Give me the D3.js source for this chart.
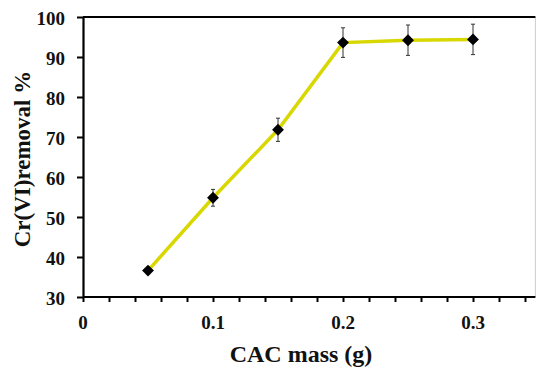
<!DOCTYPE html>
<html>
<head>
<meta charset="utf-8">
<script src="https://cdn.jsdelivr.net/npm/d3@7"></script>
<style>
  html, body { margin: 0; padding: 0; background: #fff; }
  svg { display: block; }
  text { font-family: "Liberation Serif", "Times New Roman", serif; font-weight: bold; fill: #111; }
</style>
</head>
<body>
<svg id="chart" width="536" height="369"></svg>
<script>
// CAC dose (g) and Cr(VI) removal (%) with standard deviations
const mass = [0.05, 0.10, 0.15, 0.20, 0.25, 0.30];
const removal = [36.6, 54.8, 71.8, 93.6, 94.2, 94.4];
const errors = [0.8, 2.1, 2.9, 3.7, 3.8, 3.8];
const xTickLabels = [0, 0.1, 0.2, 0.3];
const yTickLabels = [30, 40, 50, 60, 70, 80, 90, 100];

const svg = d3.select("#chart");
const x = d3.scaleLinear().domain([0, 0.35]).range([83, 538]);
const y = d3.scaleLinear().domain([30, 100]).range([297, 17]);
const xMax = 0.348;

// frame: thin grey right edge, black top edge
svg.append("line")
  .attr("x1", x(xMax)).attr("x2", x(xMax)).attr("y1", y(100)).attr("y2", y(30))
  .attr("stroke", "#ccc").attr("stroke-width", 1);
svg.append("line")
  .attr("x1", x(0)).attr("x2", x(xMax)).attr("y1", y(100)).attr("y2", y(100))
  .attr("stroke", "#000").attr("stroke-width", 2.2);

// bottom axis with minor ticks every 0.02
const minorTicks = d3.range(0, 0.341, 0.02);
const xAxis = d3.axisBottom(x).tickValues(minorTicks).tickSize(5).tickSizeOuter(0)
  .tickFormat(() => "");
const gx = svg.append("g").attr("transform", `translate(0,${y(30)})`).call(xAxis);
gx.select(".domain").attr("d", `M${x(0)},0H${x(xMax)}`).attr("stroke-width", 2.2);
gx.selectAll(".tick line").attr("stroke-width", 2);
svg.append("g").selectAll("text").data(xTickLabels).join("text")
  .attr("x", d => x(d)).attr("y", 329)
  .attr("text-anchor", "middle").attr("font-size", 19)
  .text(d => d === 0 ? "0" : d3.format(".1f")(d));

// left axis
const yAxis = d3.axisLeft(y).tickValues(yTickLabels).tickSize(6).tickSizeOuter(0)
  .tickPadding(12);
const gy = svg.append("g").attr("transform", `translate(${x(0)},0)`).call(yAxis);
gy.select(".domain").attr("stroke-width", 2.2);
gy.selectAll(".tick line").attr("stroke-width", 2);
gy.selectAll(".tick text").attr("font-size", 19).attr("dy", "0.4em")
  .style("font-family", "'Liberation Serif', serif").style("font-weight", "bold").attr("fill", "#111");

// axis titles
svg.append("text").attr("x", 301).attr("y", 362)
  .attr("text-anchor", "middle").attr("font-size", 24).text("CAC mass (g)");
svg.append("text").attr("transform", `translate(30,${y(64.5)}) rotate(-90)`)
  .attr("text-anchor", "middle").attr("font-size", 23).text("Cr(VI)removal %");

// connecting line
const pts = mass.map((m, i) => ({ m, r: removal[i], e: errors[i] }));
svg.append("path").datum(pts)
  .attr("d", d3.line().x(d => x(d.m)).y(d => y(d.r)))
  .attr("fill", "none").attr("stroke", "#d8d800").attr("stroke-width", 3.5);

// error bars
const eb = svg.append("g").attr("stroke", "#333").attr("stroke-width", 1);
eb.selectAll("line.v").data(pts).join("line").attr("class", "v")
  .attr("x1", d => x(d.m)).attr("x2", d => x(d.m))
  .attr("y1", d => y(d.r - d.e)).attr("y2", d => y(d.r + d.e));
eb.selectAll("line.t").data(pts).join("line").attr("class", "t")
  .attr("x1", d => x(d.m) - 2).attr("x2", d => x(d.m) + 2)
  .attr("y1", d => y(d.r + d.e)).attr("y2", d => y(d.r + d.e));
eb.selectAll("line.b").data(pts).join("line").attr("class", "b")
  .attr("x1", d => x(d.m) - 2).attr("x2", d => x(d.m) + 2)
  .attr("y1", d => y(d.r - d.e)).attr("y2", d => y(d.r - d.e));

// diamond markers
svg.append("g").selectAll("path").data(pts).join("path")
  .attr("transform", d => `translate(${x(d.m)},${y(d.r)})`)
  .attr("d", d3.symbol(d3.symbolDiamond2, 90))
  .attr("fill", "#000");
</script>
</body>
</html>
